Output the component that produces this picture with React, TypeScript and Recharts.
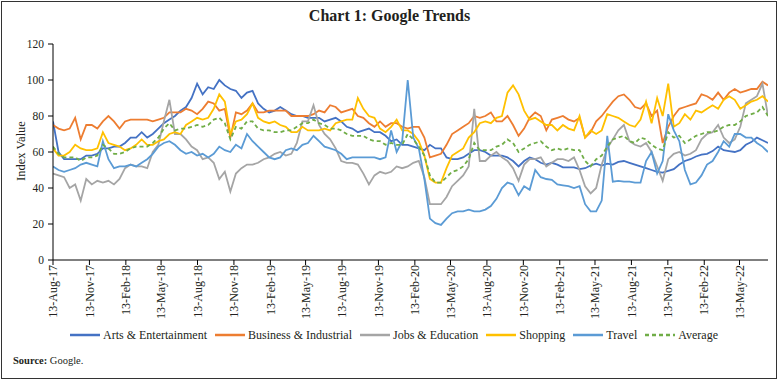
import React from 'react';
import { LineChart, Line, XAxis, YAxis } from 'recharts';

// Weekly Google Trends indices, read at two-week steps from 13-Aug-17
const STEP_DAYS = 14;
const START = Date.UTC(2017, 7, 13);

const tickLabels = [
  '13-Aug-17', '13-Nov-17', '13-Feb-18', '13-May-18', '13-Aug-18', '13-Nov-18',
  '13-Feb-19', '13-May-19', '13-Aug-19', '13-Nov-19', '13-Feb-20', '13-May-20',
  '13-Aug-20', '13-Nov-20', '13-Feb-21', '13-May-21', '13-Aug-21', '13-Nov-21',
  '13-Feb-22', '13-May-22',
];

const arts = [
  77, 60, 56, 56, 56, 56, 58, 58, 59, 62,
  62, 63, 63, 65, 68, 68, 71, 68, 70, 73,
  76, 78, 80, 83, 85, 90, 98, 92, 96, 95,
  100, 97, 95, 94, 90, 93, 94, 87, 84, 82,
  83, 85, 83, 81, 80, 80, 79, 79, 79, 77,
  78, 79, 77, 74, 73, 71, 72, 73, 71, 71,
  69, 66, 67, 64, 64, 63, 62, 61, 64, 62,
  62, 57, 56, 56, 57, 59, 61, 61, 60, 58,
  58, 58, 57, 55, 52, 55, 57, 56, 54, 53,
  54, 53, 51.5, 51.5, 51.5, 50.5, 51, 52.5, 53.5, 52.5,
  53.5, 53, 54.5, 55, 54, 53, 52, 51, 50, 49,
  48.5, 49.5, 50.5, 53, 55, 56, 57.5, 58.5, 59, 60.5,
  63, 61, 60.5, 60, 61, 64, 65.5, 68, 66.5, 65,
];

const business = [
  75, 73, 72, 73, 79, 67, 75, 75, 73, 77,
  80, 77, 73, 77, 78, 78, 78, 78, 77, 78,
  79, 82, 82, 82, 84, 83, 81, 84, 88, 87,
  83, 84, 68, 82, 81, 83, 87, 82, 82, 83,
  83, 83, 83, 80, 80, 80, 80, 81, 83, 82,
  86, 85, 82, 83, 84, 80, 79, 76, 74, 77,
  74, 76, 76, 74, 73, 74, 74, 68, 57, 58,
  59, 64, 70, 72, 74, 76, 80, 79, 80, 82,
  77, 77, 80, 75, 69, 73, 79, 82, 80, 72,
  78, 79, 80, 78, 77, 79, 68, 71, 77, 80,
  84, 88, 91, 92, 89, 85, 84, 87, 80, 83,
  65, 74, 80, 84, 85, 86, 87, 92, 91, 89,
  93, 89, 93, 95, 93, 94, 95, 95, 99, 97,
];

const jobs = [
  48, 47, 46, 40, 42, 33, 45, 42, 44, 43,
  44, 42, 45, 51, 53, 52, 52, 51, 60, 64,
  77, 89, 70, 70, 67, 63, 61, 56, 57, 54,
  45, 49, 38, 48, 51, 53, 53, 54, 56, 57,
  59, 60, 58, 59, 65, 77, 77, 86, 75, 70,
  67, 62, 55, 54, 54, 53, 48, 42, 47, 49,
  48, 49, 52, 51, 52, 54, 55, 46, 31, 31,
  31, 35, 41, 44, 47, 52, 84, 55, 55, 58,
  60, 57, 55, 51, 44, 53, 56, 56, 57, 52,
  54, 56, 56, 55, 57, 50, 41, 37, 40, 53,
  62, 67, 72, 75, 66, 64, 63, 65, 60, 52,
  44, 56, 59, 60, 58, 59, 61, 67, 70, 71,
  75, 68, 65, 67, 74, 87, 89, 91, 98, 80,
];

const shopping = [
  62, 58, 58, 60, 64, 62, 61, 61, 62, 71,
  65, 64, 63, 61, 62, 64, 67, 64, 64, 66,
  67, 70, 71, 70, 75, 77, 79, 78, 79, 84,
  92, 88, 70, 77, 78, 81, 87, 79, 77, 76,
  77, 75, 74, 71, 71, 74, 72, 72, 72, 73,
  72, 76, 77, 78, 78, 90, 84, 80, 79, 73,
  71, 74, 78, 72, 72, 70, 66, 58, 45, 43,
  43, 51, 58, 60, 62, 68, 71, 76, 77, 76,
  79, 80, 93, 97, 92, 83, 78, 79, 77, 75,
  75, 72, 75, 73, 72, 80, 68, 72, 70, 72,
  81, 80, 79, 77, 75, 74, 78, 88, 76, 90,
  80, 98, 74, 76, 81, 78, 83, 82, 84, 86,
  84, 89, 91, 89, 84, 86, 88, 89, 91, 88,
];

const travel = [
  52, 50, 49, 50, 51, 53, 54, 53, 52, 66,
  56, 51, 52, 52, 53, 52, 54, 56, 59, 63,
  65, 66, 64, 61, 59, 60, 58, 59, 57, 59,
  63, 61, 60, 64, 62, 70, 66, 63, 60, 57,
  56, 57, 61, 62, 61, 64, 65, 69, 66, 63,
  62, 61, 59, 56, 57, 57, 57, 57, 57, 56,
  57, 72, 60, 66, 100, 68, 62, 45, 23, 20.5,
  19.5, 23, 26, 27, 27, 28, 27, 27, 28, 30,
  34, 40, 43, 42, 36, 41, 39, 50, 46, 45,
  44.5, 42, 41.5, 41, 40, 41, 31, 27, 27, 33,
  69, 43.5, 44, 43.5, 43.5, 43, 43, 55, 60, 48,
  55, 81, 72, 66, 50, 42, 43, 47, 53, 55,
  60, 66, 63, 70, 70, 68, 68, 65, 63, 60,
];

const average = [
  63, 59, 57, 57, 57, 55, 57, 57, 58, 64,
  62, 59, 59, 60, 62, 63, 63, 63, 65, 68,
  73, 76, 72, 73, 73, 74, 75, 74, 75, 78,
  79, 76, 67, 74, 73, 77, 77, 73, 72, 72,
  71, 71, 72, 72, 74, 76, 76, 78, 76, 75,
  73, 73, 72, 70, 69, 69, 69, 67, 66, 66,
  64, 65, 64, 64, 70, 67, 63, 58, 47, 43,
  43, 46, 49, 50, 52, 56, 65, 61, 61, 61,
  63, 64, 67, 65, 60, 62, 64, 65, 66, 63,
  61, 62, 61, 62, 61, 61, 55, 52, 56, 58,
  63, 67, 68, 69, 66, 65, 68, 67, 64, 62,
  61, 71, 68, 69, 65, 67, 69, 70, 71, 71,
  72, 74, 75, 75, 77, 80, 81, 82, 85, 80,
];

const yTicks = [0, 20, 40, 60, 80, 100, 120];

const series = [
  { key: 'arts', name: 'Arts & Entertainment', color: '#4472C4', dash: undefined as string | undefined },
  { key: 'business', name: 'Business & Industrial', color: '#ED7D31', dash: undefined },
  { key: 'jobs', name: 'Jobs & Education', color: '#A5A5A5', dash: undefined },
  { key: 'shopping', name: 'Shopping', color: '#FFC000', dash: undefined },
  { key: 'travel', name: 'Travel', color: '#5B9BD5', dash: undefined },
  { key: 'average', name: 'Average', color: '#70AD47', dash: '4 3' },
];

const data = arts.map((v, i) => ({
  day: i * STEP_DAYS,
  arts: v,
  business: business[i],
  jobs: jobs[i],
  shopping: shopping[i],
  travel: travel[i],
  average: average[i],
}));

const tickDays = tickLabels.map((_, i) =>
  Math.round((Date.UTC(2017, 7 + 3 * i, 13) - START) / 86400000)
);
const lastDay = (arts.length - 1) * STEP_DAYS;

const FONT = '"Liberation Serif", "DejaVu Serif", serif';

const XTick = (props: any) => {
  const { x, y, payload } = props;
  const idx = tickDays.indexOf(payload.value);
  const label = idx >= 0 ? tickLabels[idx] : '';
  return (
    <text
      x={x}
      y={y}
      transform={`rotate(-90 ${x} ${y})`}
      textAnchor="end"
      dy="0.35em"
      fontSize={12}
      fontFamily={FONT}
      fill="#231F20"
    >
      {label}
    </text>
  );
};

const YLabel = () => (
  <text
    x={21}
    y={151}
    transform="rotate(-90 21 151)"
    textAnchor="middle"
    dy="0.35em"
    fontSize={12.5}
    fontFamily={FONT}
    fill="#231F20"
  >
    Index Value
  </text>
);

export default function App() {
  return (
    <div
      style={{
        position: 'absolute',
        left: 0,
        top: 0,
        width: 779,
        height: 381,
        background: '#fff',
        fontFamily: FONT,
        color: '#231F20',
      }}
    >
      <div
        style={{
          position: 'absolute',
          left: 1,
          top: 1,
          width: 774,
          height: 376,
          border: '1.5px solid #333',
        }}
      />
      <div
        style={{
          position: 'absolute',
          left: 0,
          top: 7,
          width: 779,
          textAlign: 'center',
          fontSize: 16,
          fontWeight: 'bold',
        }}
      >
        Chart 1: Google Trends
      </div>
      <div style={{ position: 'absolute', left: 0, top: 0 }}>
        <LineChart
          width={779}
          height={381}
          data={data}
          margin={{ top: 44, right: 11, bottom: 61, left: 8 }}
        >
          <XAxis
            dataKey="day"
            type="number"
            domain={[0, lastDay]}
            ticks={tickDays}
            interval={0}
            height={60}
            tickSize={5}
            tickMargin={0}
            axisLine={{ stroke: '#000', strokeWidth: 1 }}
            tickLine={{ stroke: '#000', strokeWidth: 1 }}
            tick={<XTick />}
            allowDataOverflow
          />
          <YAxis
            type="number"
            domain={[0, 120]}
            ticks={yTicks}
            interval={0}
            width={45}
            tickSize={5}
            tickMargin={4}
            axisLine={{ stroke: '#000', strokeWidth: 1 }}
            tickLine={{ stroke: '#000', strokeWidth: 1 }}
            tick={{ fontSize: 11.5, fontFamily: FONT, fill: '#231F20' }}
            label={<YLabel />}
          />
          {series.map((s) => (
            <Line
              key={s.key}
              dataKey={s.key}
              name={s.name}
              type="linear"
              stroke={s.color}
              strokeWidth={1.8}
              strokeDasharray={s.dash}
              dot={false}
              activeDot={false}
              isAnimationActive={false}
            />
          ))}
        </LineChart>
      </div>
      <div
        style={{
          position: 'absolute',
          left: 70,
          top: 326,
          height: 18,
          display: 'flex',
          alignItems: 'center',
          fontSize: 12,
          whiteSpace: 'nowrap',
        }}
      >
        {series.map((s) => (
          <div key={s.key} style={{ display: 'flex', alignItems: 'center', marginRight: 8 }}>
            <svg width={30} height={6} style={{ marginRight: 3 }}>
              <line
                x1={0}
                y1={3}
                x2={30}
                y2={3}
                stroke={s.color}
                strokeWidth={2.5}
                strokeDasharray={s.dash}
              />
            </svg>
            <span>{s.name}</span>
          </div>
        ))}
      </div>
      <div
        style={{
          position: 'absolute',
          left: 13,
          top: 355,
          fontSize: 10.5,
        }}
      >
        <b>Source:</b> Google.
      </div>
    </div>
  );
}
